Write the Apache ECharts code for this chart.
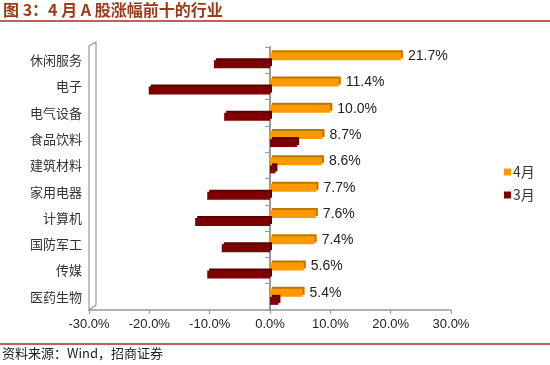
<!DOCTYPE html>
<html>
<head>
<meta charset="utf-8">
<script src="https://cdn.jsdelivr.net/npm/echarts@6/dist/echarts.min.js"></script>
<style>
  html, body { margin: 0; padding: 0; background: #fff; }
  #chart { width: 550px; height: 365px; }
</style>
</head>
<body>
<div id="chart"></div>
<script>
const categories = ["休闲服务", "电子", "电气设备", "食品饮料", "建筑材料", "家用电器", "计算机", "国防军工", "传媒", "医药生物"];
const april = [21.7, 11.4, 10.0, 8.7, 8.6, 7.7, 7.6, 7.4, 5.6, 5.4];
const march = [-9.3, -20.1, -7.6, 4.5, 0.9, -10.4, -12.4, -8.0, -10.4, 1.4];
const xTicks = { min: -30, max: 30, interval: 10 };

const chart = echarts.init(document.getElementById("chart"));

const cnFont = '"Noto Sans CJK SC", sans-serif';
const numFont = '"Liberation Sans", Arial, sans-serif';

chart.setOption({
  animation: false,
  grid: { left: 89, right: 99, top: 47, bottom: 55 },
  legend: {
    orient: "vertical",
    left: 499,
    top: 160,
    itemWidth: 7,
    itemHeight: 7,
    itemGap: 9,
    icon: "rect",
    textStyle: { fontFamily: cnFont, fontSize: 14, color: "#333", padding: [0, 0, 0, -3] },
    data: ["4月", "3月"],
  },
  xAxis: {
    type: "value",
    min: xTicks.min,
    max: xTicks.max,
    interval: xTicks.interval,
    axisLine: { show: true, lineStyle: { color: "#999", width: 1.5 } },
    axisTick: { show: true, length: 4, lineStyle: { color: "#999" } },
    splitLine: { show: false },
    axisLabel: {
      color: "#222",
      fontFamily: numFont,
      fontSize: 13,
      margin: 8,
      formatter: (v) => v.toFixed(1) + "%",
    },
  },
  yAxis: [
    {
      // labels only, at the left edge of the plot
      type: "category",
      data: categories,
      inverse: true,
      position: "left",
      axisLine: { show: false, onZero: false },
      axisTick: { show: false },
      axisLabel: { fontFamily: cnFont, fontSize: 13, color: "#333", margin: 7 },
    },
    {
      // the line and ticks through 0%
      type: "category",
      data: categories,
      inverse: true,
      position: "left",
      axisLine: { show: true, onZero: true, lineStyle: { color: "#999", width: 2 } },
      axisTick: { show: true, length: 5, lineStyle: { color: "#999" } },
      axisLabel: { show: false },
    },
  ],
  series: [
    {
      name: "4月",
      type: "bar",
      data: april,
      barWidth: 8,
      barGap: "0%",
      itemStyle: {
        color: "#FF9900",
        shadowColor: "#C27400",
        shadowOffsetX: 2,
        shadowOffsetY: -2,
      },
      label: {
        show: true,
        position: "right",
        distance: 7,
        fontFamily: numFont,
        fontSize: 14,
        color: "#222",
        formatter: (p) => p.value.toFixed(1) + "%",
      },
    },
    {
      name: "3月",
      type: "bar",
      data: march,
      barWidth: 8,
      barGap: "0%",
      itemStyle: {
        color: "#7F0000",
        shadowColor: "#5A0000",
        shadowOffsetX: 2,
        shadowOffsetY: -2,
      },
    },
  ],
  graphic: [
    {
      type: "text",
      left: 3,
      top: 2,
      style: { text: "图 3：4 月 A 股涨幅前十的行业", fontFamily: cnFont, fontSize: 16, fontWeight: "bold", fill: "#9C3A1A" },
    },
    { type: "line", shape: { x1: 0, y1: 21, x2: 550, y2: 21 }, style: { stroke: "#A52A2A", lineWidth: 1.5 } },
    { type: "line", shape: { x1: 0, y1: 344, x2: 550, y2: 344 }, style: { stroke: "#A52A2A", lineWidth: 1.5 } },
    {
      type: "text",
      left: 2,
      top: 347,
      style: { text: "资料来源：Wind，招商证券", fontFamily: cnFont, fontSize: 13, fill: "#222" },
    },
    {
      type: "polygon",
      shape: { points: [[89, 46], [96, 42], [96, 305], [89, 310]] },
      style: { fill: "#fff", stroke: "#999", lineWidth: 1.2 },
    },
  ],
});
</script>
</body>
</html>
